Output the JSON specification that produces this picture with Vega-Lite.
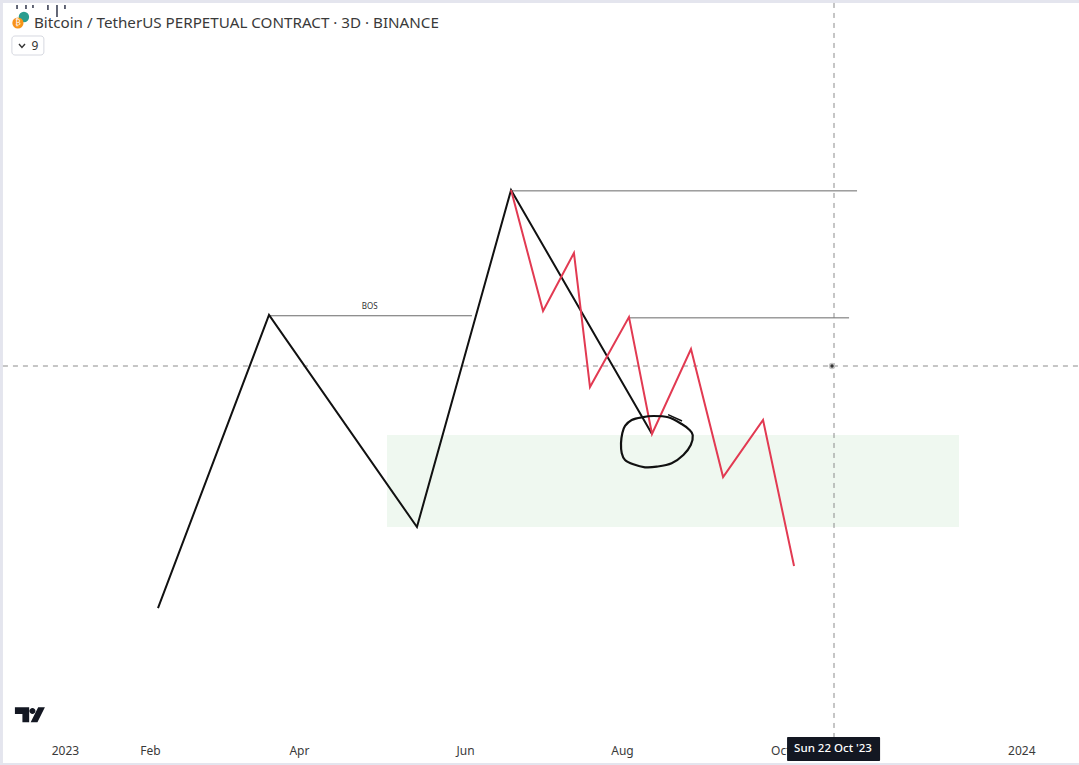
{
  "$schema": "https://vega.github.io/schema/vega-lite/v6.json",
  "width": 1079,
  "height": 765,
  "padding": 0,
  "autosize": {"type": "none"},
  "background": "#ffffff",
  "config": {"view": {"stroke": null}, "axis": {"grid": false}},
  "datasets": {
    "frame": [
      {"date": "2022-12-07T05:00:00Z", "date2": "2024-01-23T00:00:00Z", "price": 35000, "price2": 34922},
      {"date": "2022-12-07T05:00:00Z", "date2": "2024-01-23T00:00:00Z", "price": 15052, "price2": 15000},
      {"date": "2022-12-07T05:00:00Z", "date2": "2022-12-08T08:00:00Z", "price": 35000, "price2": 15000}
    ],
    "zone": [
      {"date": "2023-05-03T22:00:00Z", "date2": "2023-12-08T05:00:00Z", "price": 23627, "price2": 21222}
    ],
    "levels": [
      {"date": "2023-06-20T06:00:00Z", "date2": "2023-10-30T07:00:00Z", "price": 30010},
      {"date": "2023-03-19T21:00:00Z", "date2": "2023-06-05T08:00:00Z", "price": 26745},
      {"date": "2023-08-04T06:00:00Z", "date2": "2023-10-27T06:00:00Z", "price": 26690}
    ],
    "swings": [
      {"series": "structure", "date": "2023-02-05T12:00:00Z", "price": 19104},
      {"series": "structure", "date": "2023-03-19T21:00:00Z", "price": 26765},
      {"series": "structure", "date": "2023-05-15T08:00:00Z", "price": 21222},
      {"series": "structure", "date": "2023-06-20T06:00:00Z", "price": 30033},
      {"series": "structure", "date": "2023-08-13T01:00:00Z", "price": 23654},
      {"series": "pullback", "date": "2023-06-20T06:00:00Z", "price": 30033},
      {"series": "pullback", "date": "2023-07-02T11:00:00Z", "price": 26869},
      {"series": "pullback", "date": "2023-07-14T06:00:00Z", "price": 28386},
      {"series": "pullback", "date": "2023-07-20T09:00:00Z", "price": 24882},
      {"series": "pullback", "date": "2023-08-04T06:00:00Z", "price": 26712},
      {"series": "pullback", "date": "2023-08-13T01:00:00Z", "price": 23654},
      {"series": "pullback", "date": "2023-08-27T22:00:00Z", "price": 25876},
      {"series": "pullback", "date": "2023-09-09T04:00:00Z", "price": 22529},
      {"series": "pullback", "date": "2023-09-24T10:00:00Z", "price": 24020},
      {"series": "pullback", "date": "2023-10-06T06:00:00Z", "price": 20202}
    ],
    "scribble": [
      {"stroke": "loop", "seq": 1, "date": "2023-08-09T03:00:00Z", "price": 24090},
      {"stroke": "loop", "seq": 2, "date": "2023-08-05T07:00:00Z", "price": 24020},
      {"stroke": "loop", "seq": 3, "date": "2023-08-02T18:00:00Z", "price": 23863},
      {"stroke": "loop", "seq": 4, "date": "2023-08-01T17:00:00Z", "price": 23672},
      {"stroke": "loop", "seq": 5, "date": "2023-08-01T05:00:00Z", "price": 23411},
      {"stroke": "loop", "seq": 6, "date": "2023-08-01T12:00:00Z", "price": 23149},
      {"stroke": "loop", "seq": 7, "date": "2023-08-02T18:00:00Z", "price": 22974},
      {"stroke": "loop", "seq": 8, "date": "2023-08-05T22:00:00Z", "price": 22861},
      {"stroke": "loop", "seq": 9, "date": "2023-08-10T09:00:00Z", "price": 22783},
      {"stroke": "loop", "seq": 10, "date": "2023-08-14T20:00:00Z", "price": 22799},
      {"stroke": "loop", "seq": 11, "date": "2023-08-20T13:00:00Z", "price": 22888},
      {"stroke": "loop", "seq": 12, "date": "2023-08-25T00:00:00Z", "price": 23105},
      {"stroke": "loop", "seq": 13, "date": "2023-08-27T20:00:00Z", "price": 23366},
      {"stroke": "loop", "seq": 14, "date": "2023-08-28T14:00:00Z", "price": 23627},
      {"stroke": "loop", "seq": 15, "date": "2023-08-27T04:00:00Z", "price": 23771},
      {"stroke": "loop", "seq": 16, "date": "2023-08-24T09:00:00Z", "price": 23915},
      {"stroke": "loop", "seq": 17, "date": "2023-08-19T06:00:00Z", "price": 24090},
      {"stroke": "loop", "seq": 18, "date": "2023-08-13T13:00:00Z", "price": 24124},
      {"stroke": "loop", "seq": 19, "date": "2023-08-09T03:00:00Z", "price": 24090},
      {"stroke": "extra", "seq": 1, "date": "2023-08-19T04:00:00Z", "price": 24160},
      {"stroke": "extra", "seq": 2, "date": "2023-08-24T12:00:00Z", "price": 23993}
    ],
    "crosshairV": [
      {"date": "2023-10-21T12:00:00Z", "price": 34922, "price2": 15732}
    ],
    "crosshairH": [
      {"date": "2022-12-08T08:00:00Z", "date2": "2024-01-23T00:00:00Z", "price": 25431}
    ],
    "crosshairDot": [
      {"date": "2023-10-20T18:00:00Z", "price": 25431}
    ],
    "dateTag": [
      {"date": "2023-10-03T14:00:00Z", "date2": "2023-11-08T02:00:00Z", "price": 15732, "price2": 15105}
    ],
    "dateTagText": [
      {"date": "2023-10-21T03:00:00Z", "price": 15418, "label": "Sun 22 Oct '23"}
    ],
    "bosText": [
      {"date": "2023-04-27T07:00:00Z", "price": 26965, "label": "BOS"}
    ],
    "titleText": [
      {"date": "2022-12-20T04:00:00Z", "price": 34410, "label": "Bitcoin / TetherUS PERPETUAL CONTRACT · 3D · BINANCE"}
    ],
    "candles": [
      {"date": "2022-12-13T17:00:00Z", "price": 34869, "price2": 34765},
      {"date": "2022-12-17T03:00:00Z", "price": 34869, "price2": 34765},
      {"date": "2022-12-19T19:00:00Z", "price": 34869, "price2": 34790},
      {"date": "2022-12-25T12:00:00Z", "price": 34869, "price2": 34740},
      {"date": "2022-12-28T23:00:00Z", "price": 34869, "price2": 34556},
      {"date": "2023-01-01T00:00:00Z", "price": 34869, "price2": 34765}
    ],
    "tether": [
      {"date": "2022-12-16T08:00:00Z", "price": 34556}
    ],
    "bitcoin": [
      {"date": "2022-12-14T01:00:00Z", "price": 34399}
    ],
    "iconText": [
      {"date": "2022-12-14T01:00:00Z", "price": 34399, "label": "₿"}
    ],
    "button": [
      {"date": "2022-12-11T18:00:00Z", "date2": "2022-12-23T23:00:00Z", "price": 34059, "price2": 33562}
    ],
    "chevron": [
      {"date": "2022-12-14T11:00:00Z", "price": 33850},
      {"date": "2022-12-15T14:00:00Z", "price": 33760},
      {"date": "2022-12-16T18:00:00Z", "price": 33850}
    ],
    "buttonText": [
      {"date": "2022-12-20T13:00:00Z", "price": 33797, "label": "9"}
    ],
    "logo": [
      {"date": "2022-12-18T15:00:00Z", "price": 16312}
    ]
  },
  "encoding": {
    "x": {
      "field": "date",
      "type": "temporal",
      "title": null,
      "scale": {
        "type": "utc",
        "nice": false,
        "domain": [
          {"year": 2022, "month": 12, "date": 7, "hours": 5, "utc": true},
          {"year": 2024, "month": 1, "date": 23, "utc": true}
        ]
      },
      "axis": {
        "orient": "bottom",
        "domain": false,
        "ticks": false,
        "grid": false,
        "labelPadding": -15,
        "labelBaseline": "middle",
        "labelFont": "Noto Sans",
        "labelFontSize": 12,
        "labelColor": "#3a3a3a",
        "labelOverlap": false,
        "labelFlush": false,
        "labelBound": false,
        "values": [
          {"year": 2023, "month": 1, "date": 1, "utc": true},
          {"year": 2023, "month": 2, "date": 2, "hours": 10, "utc": true},
          {"year": 2023, "month": 3, "date": 31, "hours": 7, "utc": true},
          {"year": 2023, "month": 6, "date": 2, "hours": 16, "utc": true},
          {"year": 2023, "month": 8, "date": 1, "hours": 14, "utc": true},
          {"year": 2023, "month": 10, "date": 1, "utc": true},
          {"year": 2024, "month": 1, "date": 1, "utc": true}
        ],
        "labelExpr": "utcmonth(datum.value + 86400000) == 0 ? utcFormat(datum.value, '%Y') : utcFormat(datum.value + 86400000, '%b')"
      }
    },
    "y": {
      "field": "price",
      "type": "quantitative",
      "scale": {"domain": [15000, 35000], "nice": false, "zero": false},
      "axis": null
    }
  },
  "layer": [
    {
      "data": {"name": "frame"},
      "mark": {"type": "rect", "color": "#e4e5ee"},
      "encoding": {"x2": {"field": "date2"}, "y2": {"field": "price2"}}
    },
    {
      "data": {"name": "zone"},
      "mark": {"type": "rect", "color": "#eff8f0"},
      "encoding": {"x2": {"field": "date2"}, "y2": {"field": "price2"}}
    },
    {
      "data": {"name": "levels"},
      "mark": {"type": "rule", "color": "#444444", "strokeWidth": 0.8},
      "encoding": {"x2": {"field": "date2"}}
    },
    {
      "data": {"name": "crosshairV"},
      "mark": {"type": "rule", "color": "#808080", "strokeWidth": 0.9, "strokeDash": [5, 5]},
      "encoding": {"y2": {"field": "price2"}}
    },
    {
      "data": {"name": "crosshairH"},
      "mark": {"type": "rule", "color": "#707070", "strokeWidth": 0.8, "strokeDash": [5, 5]},
      "encoding": {"x2": {"field": "date2"}}
    },
    {
      "data": {"name": "swings"},
      "mark": {"type": "line", "strokeWidth": 2, "strokeJoin": "miter"},
      "encoding": {
        "color": {
          "field": "series",
          "type": "nominal",
          "legend": null,
          "scale": {"domain": ["structure", "pullback"], "range": ["#111111", "#e23a52"]}
        }
      }
    },
    {
      "data": {"name": "scribble"},
      "transform": [{"filter": "datum.stroke == 'loop'"}],
      "mark": {"type": "line", "color": "#111111", "strokeWidth": 2.2, "interpolate": "cardinal"},
      "encoding": {"order": {"field": "seq", "type": "quantitative"}}
    },
    {
      "data": {"name": "scribble"},
      "transform": [{"filter": "datum.stroke == 'extra'"}],
      "mark": {"type": "line", "color": "#111111", "strokeWidth": 1.5},
      "encoding": {"order": {"field": "seq", "type": "quantitative"}}
    },
    {
      "data": {"name": "crosshairDot"},
      "mark": {"type": "point", "filled": true, "color": "#333333", "size": 24, "opacity": 1, "stroke": "#c4c4c4", "strokeWidth": 1.5}
    },
    {
      "data": {"name": "dateTag"},
      "mark": {"type": "rect", "color": "#131722", "cornerRadius": 1},
      "encoding": {"x2": {"field": "date2"}, "y2": {"field": "price2"}}
    },
    {
      "data": {"name": "dateTagText"},
      "mark": {"type": "text", "color": "#ffffff", "font": "Noto Sans", "fontSize": 11.5, "fontWeight": 500, "align": "center", "baseline": "middle"},
      "encoding": {"text": {"field": "label"}}
    },
    {
      "data": {"name": "bosText"},
      "mark": {"type": "text", "color": "#333333", "font": "Noto Sans", "fontSize": 8, "align": "center", "baseline": "middle"},
      "encoding": {"text": {"field": "label"}}
    },
    {
      "data": {"name": "candles"},
      "mark": {"type": "rule", "color": "#30354a", "strokeWidth": 1.5},
      "encoding": {"y2": {"field": "price2"}}
    },
    {
      "data": {"name": "tether"},
      "mark": {"type": "point", "filled": true, "opacity": 1, "size": 110, "color": "#2a9d8f"}
    },
    {
      "data": {"name": "bitcoin"},
      "mark": {"type": "point", "filled": true, "opacity": 1, "size": 125, "color": "#f7931a"}
    },
    {
      "data": {"name": "iconText"},
      "mark": {"type": "text", "color": "#ffffff", "font": "DejaVu Sans", "fontSize": 8, "align": "center", "baseline": "middle"},
      "encoding": {"text": {"field": "label"}}
    },
    {
      "data": {"name": "titleText"},
      "mark": {"type": "text", "color": "#3a3a3a", "font": "Noto Sans", "fontSize": 15.2, "align": "left", "baseline": "middle"},
      "encoding": {"text": {"field": "label"}}
    },
    {
      "data": {"name": "button"},
      "mark": {"type": "rect", "fill": "#ffffff", "stroke": "#d6d8e0", "strokeWidth": 1, "cornerRadius": 3},
      "encoding": {"x2": {"field": "date2"}, "y2": {"field": "price2"}}
    },
    {
      "data": {"name": "chevron"},
      "mark": {"type": "line", "color": "#333333", "strokeWidth": 1.4},
      "encoding": {}
    },
    {
      "data": {"name": "buttonText"},
      "mark": {"type": "text", "color": "#333333", "font": "Noto Sans", "fontSize": 12, "align": "center", "baseline": "middle"},
      "encoding": {"text": {"field": "label"}}
    },
    {
      "data": {"name": "logo"},
      "mark": {
        "type": "point",
        "filled": true,
        "color": "#131722",
        "opacity": 1,
        "size": 900,
        "shape": "M-1 -0.5 L-0.05 -0.5 L-0.05 0.5 L-0.5 0.5 L-0.5 -0.05 L-1 -0.05 Z M-0.03 -0.25 A0.2 0.2 0 1 0 0.37 -0.25 A0.2 0.2 0 1 0 -0.03 -0.25 Z M0.55 -0.5 L1 -0.5 L0.5 0.5 L0.05 0.5 Z"
      }
    }
  ]
}
